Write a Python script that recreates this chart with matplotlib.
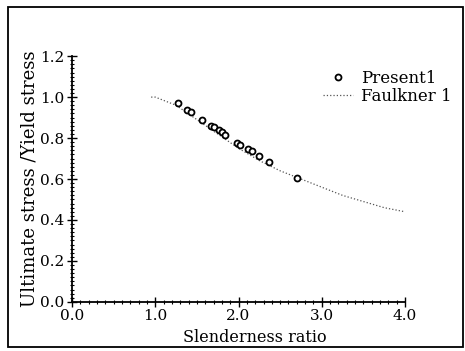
import matplotlib
matplotlib.use("Agg")
import matplotlib.pyplot as plt
from matplotlib.patches import Rectangle
from matplotlib.ticker import MultipleLocator

# === данные ===
present_x = [1.27, 1.38, 1.43, 1.56, 1.67, 1.71, 1.76, 1.80, 1.84,
             1.98, 2.02, 2.11, 2.16, 2.25, 2.37, 2.70]
present_y = [0.97, 0.935, 0.925, 0.89, 0.86, 0.855, 0.84, 0.83, 0.815,
             0.775, 0.765, 0.745, 0.735, 0.71, 0.685, 0.605]

faulkner_x = [0.95, 1.0, 1.25, 1.5, 1.75, 2.0, 2.25, 2.5, 2.75,
              3.0, 3.25, 3.5, 3.75, 4.0]
faulkner_y = [1.0, 1.0, 0.96, 0.89, 0.82, 0.75, 0.69, 0.64, 0.60,
              0.56, 0.52, 0.49, 0.46, 0.44]

x_ticks = [0.0, 1.0, 2.0, 3.0, 4.0]
y_ticks = [0.0, 0.2, 0.4, 0.6, 0.8, 1.0, 1.2]

plt.rcParams['font.family'] = ['DejaVu Serif']

fig = plt.figure(figsize=(4.65, 3.51), dpi=100)
ax = fig.add_axes([0.155, 0.14, 0.716, 0.70])

ax.plot(faulkner_x, faulkner_y, linestyle=':', color='#555555', lw=0.9,
        label='Faulkner 1')
ax.plot(present_x, present_y, linestyle='none', marker='o', ms=4.3,
        mfc='white', mec='black', mew=1.3, label='Present1')

ax.set_xlim(0, 4.0)
ax.set_ylim(0, 1.2)
ax.set_xticks(x_ticks)
ax.set_xticklabels([f"{v:.1f}" for v in x_ticks])
ax.set_yticks(y_ticks)
ax.set_yticklabels([f"{v:.1f}" for v in y_ticks])
ax.xaxis.set_minor_locator(MultipleLocator(0.1))
ax.yaxis.set_minor_locator(MultipleLocator(0.02))
ax.tick_params(which='major', direction='inout', length=7, width=1.0,
               labelsize=11, pad=2)
ax.tick_params(which='minor', direction='inout', length=3, width=0.8)

for side in ['top', 'right']:
    ax.spines[side].set_visible(False)
for side in ['left', 'bottom']:
    ax.spines[side].set_linewidth(1.3)

ax.set_xlabel("Slenderness ratio", fontsize=11.5, labelpad=0)
ax.xaxis.set_label_coords(0.55, -0.11)
ax.set_ylabel("Ultimate stress /Yield stress", fontsize=13, labelpad=1)

handles, labels = ax.get_legend_handles_labels()
ax.legend(handles[::-1], labels[::-1], loc='upper right',
          bbox_to_anchor=(1.175, 0.99), frameon=False, fontsize=12,
          handlelength=1.8, handletextpad=0.5, borderpad=0.2,
          labelspacing=0.05)

# рамка вокруг всего рисунка
fig.patches.append(Rectangle((0.017, 0.011), 0.978, 0.97,
                             transform=fig.transFigure, fill=False,
                             edgecolor='black', lw=1.3))

fig.savefig("out.png", dpi=100)
